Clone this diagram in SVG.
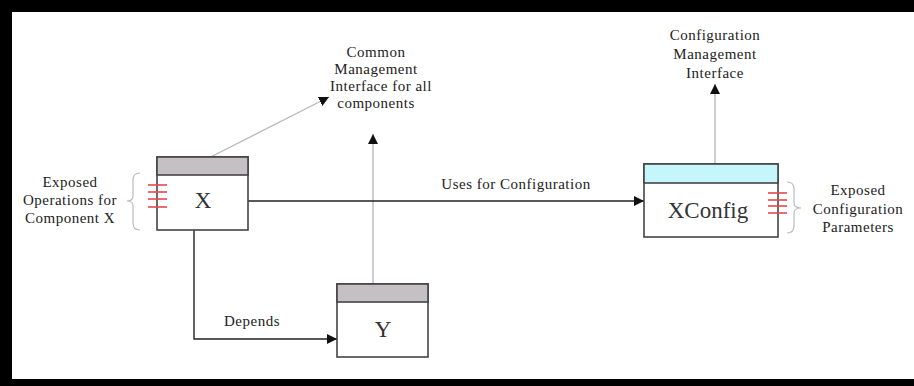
<svg xmlns="http://www.w3.org/2000/svg" width="914" height="386" viewBox="0 0 914 386">
<style>
.t{font-family:"Liberation Serif","DejaVu Serif",serif;font-size:15px;fill:#222;text-anchor:middle;letter-spacing:0.5px}
.big{font-family:"Liberation Serif","DejaVu Serif",serif;font-size:23px;fill:#333;text-anchor:middle}
.box{fill:#fff;stroke:#444;stroke-width:1.6}
.hdr{stroke:#444;stroke-width:1.6}
.stub{stroke:#e8474a;stroke-width:1.6}
.brace{fill:none;stroke:#bbb;stroke-width:1.2}
.ln{fill:none;stroke:#222;stroke-width:1.4}
.lg{fill:none;stroke:#b8b8c0;stroke-width:1.4}
</style>
<defs>
<marker id="ah" viewBox="0 0 10 10" refX="10" refY="5" markerWidth="10" markerHeight="10" markerUnits="userSpaceOnUse" orient="auto">
<path d="M0,0 L10,5 L0,10 z" fill="#111"/>
</marker>
</defs>
<rect x="0" y="0" width="914" height="386" fill="#000"/>
<rect x="12" y="12" width="902" height="367" fill="#fff"/>

<g id="connectors">
<path class="lg" d="M193,166 L329,97" marker-end="url(#ah)"/>
<path class="lg" d="M373,293 L373,134" marker-end="url(#ah)"/>
<path class="lg" d="M715,173 L715,84" marker-end="url(#ah)"/>
<path class="ln" d="M248,201 L644,201" marker-end="url(#ah)"/>
<path class="ln" d="M194,230 L194,339 L337,339" marker-end="url(#ah)"/>
<text class="t" x="516" y="189">Uses for Configuration</text>
<text class="t" x="252" y="326">Depends</text>
</g>

<g id="common-label">
<text class="t" x="376" y="57">Common</text>
<text class="t" x="376" y="74">Management</text>
<text class="t" x="381" y="91">Interface for all</text>
<text class="t" x="376" y="108">components</text>
</g>

<g id="config-label">
<text class="t" x="715" y="40">Configuration</text>
<text class="t" x="715" y="59">Management</text>
<text class="t" x="715" y="78">Interface</text>
</g>

<g id="node-x">
<rect class="box" x="157" y="157" width="91" height="73"/>
<rect class="hdr" x="157" y="157" width="91" height="18" fill="#c4c0c4"/>
<text class="big" x="203" y="208">X</text>
<line class="stub" x1="148" y1="185" x2="167" y2="185"/>
<line class="stub" x1="148" y1="192" x2="167" y2="192"/>
<line class="stub" x1="148" y1="199" x2="167" y2="199"/>
<line class="stub" x1="148" y1="207" x2="167" y2="207"/>
</g>

<g id="x-ops-label">
<path class="brace" d="M140,173 Q133,173 133,180 L133,196 Q133,201 127,201 Q133,201 133,206 L133,223 Q133,230 140,230"/>
<text class="t" x="70" y="187">Exposed</text>
<text class="t" x="70" y="205">Operations for</text>
<text class="t" x="70" y="223">Component X</text>
</g>

<g id="node-y">
<rect class="box" x="337" y="284" width="91" height="73"/>
<rect class="hdr" x="337" y="284" width="91" height="18" fill="#c4c0c4"/>
<text class="big" x="383" y="337">Y</text>
</g>

<g id="node-xconfig">
<rect class="box" x="644" y="164" width="134" height="73"/>
<rect class="hdr" x="644" y="164" width="134" height="19" fill="#c4f6fc"/>
<text class="big" x="708" y="218">XConfig</text>
<line class="stub" x1="768" y1="193" x2="787" y2="193"/>
<line class="stub" x1="768" y1="200" x2="787" y2="200"/>
<line class="stub" x1="768" y1="206" x2="787" y2="206"/>
<line class="stub" x1="768" y1="213" x2="787" y2="213"/>
</g>

<g id="config-params-label">
<path class="brace" d="M787,182 Q794,182 794,189 L794,203 Q794,208 801,208 Q794,208 794,213 L794,226 Q794,233 787,233"/>
<text class="t" x="858" y="195">Exposed</text>
<text class="t" x="858" y="214">Configuration</text>
<text class="t" x="858" y="232">Parameters</text>
</g>
</svg>
